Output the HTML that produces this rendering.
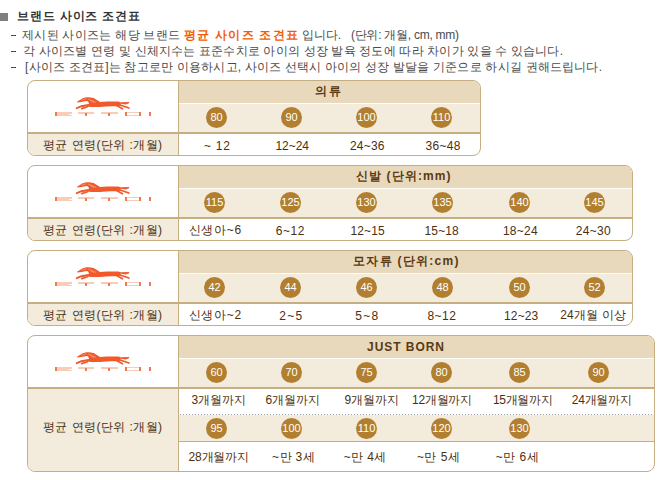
<!DOCTYPE html>
<html><head><meta charset="utf-8"><style>
html,body{margin:0;padding:0;background:#fff;width:670px;height:480px;overflow:hidden;position:relative;font-family:"Liberation Sans",sans-serif;}
.abs{position:absolute;}
.tb{position:absolute;box-sizing:border-box;border:1px solid #c4ae82;border-radius:8px;overflow:hidden;background:#fff;}
.r{position:absolute;}
.c{position:absolute;width:21px;height:21px;border-radius:50%;background:#b27f30;color:#fff;font-size:11px;line-height:20px;text-align:center;letter-spacing:0px;}
svg text{font-family:"Liberation Sans",sans-serif;font-size:12px;}
</style></head><body>

<div class="abs" style="left:0;top:13px;width:8px;height:8px;background:#808080"></div>
<div class="abs" style="left:11px;top:35px;width:5px;height:1px;background:#4a4a4a"></div>
<div class="abs" style="left:11px;top:51px;width:5px;height:1px;background:#4a4a4a"></div>
<div class="abs" style="left:11px;top:67px;width:5px;height:1px;background:#4a4a4a"></div>
<div class="tb" style="left:27px;top:80px;width:454px;height:76px">
<div class="r" style="left:151px;top:0px;width:301px;height:22px;background:#e8d8bc;"></div>
<div class="r" style="left:151px;top:22px;width:301px;height:1px;background:#fffdf8;"></div>
<div class="r" style="left:151px;top:23px;width:301px;height:28px;background:#f3ebdc;"></div>
<div class="r" style="left:0px;top:51px;width:452px;height:2px;background:#c4ae82;"></div>
<div class="r" style="left:0px;top:53px;width:150px;height:21px;background:#f3ebdc;"></div>
<div class="r" style="left:150px;top:0px;width:1px;height:74px;background:#c4ae82;"></div>
<div class="c" style="left:178px;top:26px">80</div>
<div class="c" style="left:253px;top:26px">90</div>
<div class="c" style="left:328px;top:26px">100</div>
<div class="c" style="left:403px;top:26px">110</div>
</div>
<svg class="abs" style="left:28px;top:81px" width="150" height="51" viewBox="28 81 150 51">
<g fill="#f0592a"><path d="M77.2,101.6 L79.5,100.2 L82.6,98.2 L86.4,97.3 L89,97.2 L93.6,98 L98.5,101 L100,101.9 C105,101.6 112,101.4 118.6,101.5 L121,102.6 L120.5,105.5 L117,106.5 C112,106.1 106,106.4 100,106.9 L92,107 L88,106.8 L89,103.8 L88.2,101.6 L86.7,101.1 L81.5,102 L77.5,102.4 Z"/><path d="M120.5,102.2 L129.2,102 L129,103.2 L125.7,104.5 L121,103.8 Z"/></g>
<g stroke="#f0592a" stroke-linecap="round" fill="none"><path stroke-width="1.6" d="M120,105 L129,108.1"/><path stroke-width="1.6" d="M117.5,106 L122.5,108.8"/><path stroke-width="2" d="M88.5,104.9 L81.4,106.2 L76.8,108.1"/><path stroke-width="1.7" d="M87.5,106.8 L81.7,108.6"/></g><g stroke="#fff" stroke-opacity="0.45" stroke-width="0.7" fill="none"><path d="M88,98.9 L96,102.4"/><path d="M81.5,100.3 L86.5,98.6"/><path d="M90.5,100.6 L94,102.6"/></g>
<g fill="#f9ccba">
<rect x="55" y="112" width="17" height="4"/>
<rect x="78" y="112" width="16" height="2"/>
<rect x="101" y="112" width="17" height="2"/>
<rect x="125" y="112" width="16" height="1"/><rect x="125" y="115" width="16" height="1"/>
</g>
<g fill="#f2794f">
<rect x="55" y="112" width="2" height="4"/>
<rect x="85" y="113" width="2" height="3"/>
<rect x="108" y="113" width="2" height="3"/>
<rect x="125" y="112" width="2" height="4"/><rect x="139" y="112" width="2" height="4"/>
<rect x="149" y="112" width="2" height="4"/>
</g>
<rect x="69" y="114" width="3" height="1" fill="#fff"/>
</svg>
<div class="tb" style="left:27px;top:165px;width:606px;height:76px">
<div class="r" style="left:151px;top:0px;width:453px;height:22px;background:#e8d8bc;"></div>
<div class="r" style="left:151px;top:22px;width:453px;height:1px;background:#fffdf8;"></div>
<div class="r" style="left:151px;top:23px;width:453px;height:28px;background:#f3ebdc;"></div>
<div class="r" style="left:0px;top:51px;width:604px;height:2px;background:#c4ae82;"></div>
<div class="r" style="left:0px;top:53px;width:150px;height:21px;background:#f3ebdc;"></div>
<div class="r" style="left:150px;top:0px;width:1px;height:74px;background:#c4ae82;"></div>
<div class="c" style="left:176px;top:26px">115</div>
<div class="c" style="left:252px;top:26px">125</div>
<div class="c" style="left:328px;top:26px">130</div>
<div class="c" style="left:404px;top:26px">135</div>
<div class="c" style="left:481px;top:26px">140</div>
<div class="c" style="left:556px;top:26px">145</div>
</div>
<svg class="abs" style="left:28px;top:166px" width="150" height="51" viewBox="28 81 150 51">
<g fill="#f0592a"><path d="M77.2,101.6 L79.5,100.2 L82.6,98.2 L86.4,97.3 L89,97.2 L93.6,98 L98.5,101 L100,101.9 C105,101.6 112,101.4 118.6,101.5 L121,102.6 L120.5,105.5 L117,106.5 C112,106.1 106,106.4 100,106.9 L92,107 L88,106.8 L89,103.8 L88.2,101.6 L86.7,101.1 L81.5,102 L77.5,102.4 Z"/><path d="M120.5,102.2 L129.2,102 L129,103.2 L125.7,104.5 L121,103.8 Z"/></g>
<g stroke="#f0592a" stroke-linecap="round" fill="none"><path stroke-width="1.6" d="M120,105 L129,108.1"/><path stroke-width="1.6" d="M117.5,106 L122.5,108.8"/><path stroke-width="2" d="M88.5,104.9 L81.4,106.2 L76.8,108.1"/><path stroke-width="1.7" d="M87.5,106.8 L81.7,108.6"/></g><g stroke="#fff" stroke-opacity="0.45" stroke-width="0.7" fill="none"><path d="M88,98.9 L96,102.4"/><path d="M81.5,100.3 L86.5,98.6"/><path d="M90.5,100.6 L94,102.6"/></g>
<g fill="#f9ccba">
<rect x="55" y="112" width="17" height="4"/>
<rect x="78" y="112" width="16" height="2"/>
<rect x="101" y="112" width="17" height="2"/>
<rect x="125" y="112" width="16" height="1"/><rect x="125" y="115" width="16" height="1"/>
</g>
<g fill="#f2794f">
<rect x="55" y="112" width="2" height="4"/>
<rect x="85" y="113" width="2" height="3"/>
<rect x="108" y="113" width="2" height="3"/>
<rect x="125" y="112" width="2" height="4"/><rect x="139" y="112" width="2" height="4"/>
<rect x="149" y="112" width="2" height="4"/>
</g>
<rect x="69" y="114" width="3" height="1" fill="#fff"/>
</svg>
<div class="tb" style="left:27px;top:250px;width:606px;height:76px">
<div class="r" style="left:151px;top:0px;width:453px;height:22px;background:#e8d8bc;"></div>
<div class="r" style="left:151px;top:22px;width:453px;height:1px;background:#fffdf8;"></div>
<div class="r" style="left:151px;top:23px;width:453px;height:28px;background:#f3ebdc;"></div>
<div class="r" style="left:0px;top:51px;width:604px;height:2px;background:#c4ae82;"></div>
<div class="r" style="left:0px;top:53px;width:150px;height:21px;background:#f3ebdc;"></div>
<div class="r" style="left:150px;top:0px;width:1px;height:74px;background:#c4ae82;"></div>
<div class="c" style="left:176px;top:26px">42</div>
<div class="c" style="left:252px;top:26px">44</div>
<div class="c" style="left:328px;top:26px">46</div>
<div class="c" style="left:404px;top:26px">48</div>
<div class="c" style="left:481px;top:26px">50</div>
<div class="c" style="left:556px;top:26px">52</div>
</div>
<svg class="abs" style="left:28px;top:251px" width="150" height="51" viewBox="28 81 150 51">
<g fill="#f0592a"><path d="M77.2,101.6 L79.5,100.2 L82.6,98.2 L86.4,97.3 L89,97.2 L93.6,98 L98.5,101 L100,101.9 C105,101.6 112,101.4 118.6,101.5 L121,102.6 L120.5,105.5 L117,106.5 C112,106.1 106,106.4 100,106.9 L92,107 L88,106.8 L89,103.8 L88.2,101.6 L86.7,101.1 L81.5,102 L77.5,102.4 Z"/><path d="M120.5,102.2 L129.2,102 L129,103.2 L125.7,104.5 L121,103.8 Z"/></g>
<g stroke="#f0592a" stroke-linecap="round" fill="none"><path stroke-width="1.6" d="M120,105 L129,108.1"/><path stroke-width="1.6" d="M117.5,106 L122.5,108.8"/><path stroke-width="2" d="M88.5,104.9 L81.4,106.2 L76.8,108.1"/><path stroke-width="1.7" d="M87.5,106.8 L81.7,108.6"/></g><g stroke="#fff" stroke-opacity="0.45" stroke-width="0.7" fill="none"><path d="M88,98.9 L96,102.4"/><path d="M81.5,100.3 L86.5,98.6"/><path d="M90.5,100.6 L94,102.6"/></g>
<g fill="#f9ccba">
<rect x="55" y="112" width="17" height="4"/>
<rect x="78" y="112" width="16" height="2"/>
<rect x="101" y="112" width="17" height="2"/>
<rect x="125" y="112" width="16" height="1"/><rect x="125" y="115" width="16" height="1"/>
</g>
<g fill="#f2794f">
<rect x="55" y="112" width="2" height="4"/>
<rect x="85" y="113" width="2" height="3"/>
<rect x="108" y="113" width="2" height="3"/>
<rect x="125" y="112" width="2" height="4"/><rect x="139" y="112" width="2" height="4"/>
<rect x="149" y="112" width="2" height="4"/>
</g>
<rect x="69" y="114" width="3" height="1" fill="#fff"/>
</svg>
<div class="tb" style="left:27px;top:335px;width:628px;height:137px">
<div class="r" style="left:151px;top:0px;width:475px;height:22px;background:#e8d8bc;"></div>
<div class="r" style="left:151px;top:22px;width:475px;height:1px;background:#fffdf8;"></div>
<div class="r" style="left:151px;top:23px;width:475px;height:28px;background:#f3ebdc;"></div>
<div class="r" style="left:0px;top:51px;width:626px;height:2px;background:#c4ae82;"></div>
<div class="r" style="left:0px;top:53px;width:150px;height:82px;background:#f3ebdc;"></div>
<div class="r" style="left:151px;top:78px;width:475px;height:1px;background:transparent;background-image:linear-gradient(to right,#a0a0a0 1px,transparent 1px);background-size:3px 1px;background-position:1px 0;"></div>
<div class="r" style="left:151px;top:79px;width:475px;height:26px;background:#f3ebdc;"></div>
<div class="r" style="left:151px;top:105px;width:475px;height:1px;background:#c4ae82;"></div>
<div class="r" style="left:150px;top:0px;width:1px;height:135px;background:#c4ae82;"></div>
<div class="c" style="left:178px;top:26px">60</div>
<div class="c" style="left:253px;top:26px">70</div>
<div class="c" style="left:328px;top:26px">75</div>
<div class="c" style="left:403px;top:26px">80</div>
<div class="c" style="left:481px;top:26px">85</div>
<div class="c" style="left:560px;top:26px">90</div>
<div class="c" style="left:178px;top:82px">95</div>
<div class="c" style="left:253px;top:82px">100</div>
<div class="c" style="left:328px;top:82px">110</div>
<div class="c" style="left:403px;top:82px">120</div>
<div class="c" style="left:481px;top:82px">130</div>
</div>
<svg class="abs" style="left:28px;top:336px" width="150" height="51" viewBox="28 81 150 51">
<g fill="#f0592a"><path d="M77.2,101.6 L79.5,100.2 L82.6,98.2 L86.4,97.3 L89,97.2 L93.6,98 L98.5,101 L100,101.9 C105,101.6 112,101.4 118.6,101.5 L121,102.6 L120.5,105.5 L117,106.5 C112,106.1 106,106.4 100,106.9 L92,107 L88,106.8 L89,103.8 L88.2,101.6 L86.7,101.1 L81.5,102 L77.5,102.4 Z"/><path d="M120.5,102.2 L129.2,102 L129,103.2 L125.7,104.5 L121,103.8 Z"/></g>
<g stroke="#f0592a" stroke-linecap="round" fill="none"><path stroke-width="1.6" d="M120,105 L129,108.1"/><path stroke-width="1.6" d="M117.5,106 L122.5,108.8"/><path stroke-width="2" d="M88.5,104.9 L81.4,106.2 L76.8,108.1"/><path stroke-width="1.7" d="M87.5,106.8 L81.7,108.6"/></g><g stroke="#fff" stroke-opacity="0.45" stroke-width="0.7" fill="none"><path d="M88,98.9 L96,102.4"/><path d="M81.5,100.3 L86.5,98.6"/><path d="M90.5,100.6 L94,102.6"/></g>
<g fill="#f9ccba">
<rect x="55" y="112" width="17" height="4"/>
<rect x="78" y="112" width="16" height="2"/>
<rect x="101" y="112" width="17" height="2"/>
<rect x="125" y="112" width="16" height="1"/><rect x="125" y="115" width="16" height="1"/>
</g>
<g fill="#f2794f">
<rect x="55" y="112" width="2" height="4"/>
<rect x="85" y="113" width="2" height="3"/>
<rect x="108" y="113" width="2" height="3"/>
<rect x="125" y="112" width="2" height="4"/><rect x="139" y="112" width="2" height="4"/>
<rect x="149" y="112" width="2" height="4"/>
</g>
<rect x="69" y="114" width="3" height="1" fill="#fff"/>
</svg>
<svg class="abs" style="left:0;top:0" width="670" height="480" viewBox="0 0 670 480">
<text x="17.0" y="20" textLength="123.0" lengthAdjust="spacing" fill="#333333" font-weight="bold">브랜드 사이즈 조견표</text>
<text x="22.0" y="39" textLength="158.0" lengthAdjust="spacing" fill="#4a4a4a">제시된 사이즈는 해당 브랜드</text>
<text x="184.0" y="39" textLength="114.0" lengthAdjust="spacing" fill="#f25c05" font-weight="bold">평균 사이즈 조견표</text>
<text x="302.0" y="39" textLength="39.0" lengthAdjust="spacing" fill="#4a4a4a">입니다.</text>
<text x="351.0" y="39" textLength="108.0" lengthAdjust="spacing" fill="#4a4a4a">(단위: 개월, cm, mm)</text>
<text x="23.0" y="55" textLength="540.0" lengthAdjust="spacing" fill="#4a4a4a">각 사이즈별 연령 및 신체지수는 표준수치로 아이의 성장 발육 정도에 따라 차이가 있을 수 있습니다.</text>
<text x="25.0" y="71" textLength="577.0" lengthAdjust="spacing" fill="#4a4a4a">[사이즈 조견표]는 참고로만 이용하시고, 사이즈 선택시 아이의 성장 발달을 기준으로 하시길 권해드립니다.</text>
<text x="315.0" y="95" textLength="26.0" lengthAdjust="spacing" fill="#5a3a12" font-weight="bold">의류</text>
<text x="43.0" y="149" textLength="119.0" lengthAdjust="spacing" fill="#4b300f">평균 연령(단위 :개월)</text>
<text x="204.0" y="150" textLength="26.0" lengthAdjust="spacing" fill="#4b300f">~ 12</text>
<text x="275.5" y="150" textLength="33.5" lengthAdjust="spacing" fill="#4b300f">12~24</text>
<text x="350.0" y="150" textLength="34.5" lengthAdjust="spacing" fill="#4b300f">24~36</text>
<text x="425.5" y="150" textLength="35.0" lengthAdjust="spacing" fill="#4b300f">36~48</text>
<text x="356.0" y="180" textLength="94.5" lengthAdjust="spacing" fill="#5a3a12" font-weight="bold">신발 (단위:mm)</text>
<text x="43.0" y="234" textLength="119.0" lengthAdjust="spacing" fill="#4b300f">평균 연령(단위 :개월)</text>
<text x="188.6" y="234" textLength="52.6" lengthAdjust="spacing" fill="#4b300f">신생아~6</text>
<text x="275.7" y="235" textLength="28.8" lengthAdjust="spacing" fill="#4b300f">6~12</text>
<text x="350.5" y="235" textLength="34.2" lengthAdjust="spacing" fill="#4b300f">12~15</text>
<text x="424.5" y="235" textLength="34.3" lengthAdjust="spacing" fill="#4b300f">15~18</text>
<text x="502.9" y="235" textLength="34.7" lengthAdjust="spacing" fill="#4b300f">18~24</text>
<text x="575.7" y="235" textLength="35.0" lengthAdjust="spacing" fill="#4b300f">24~30</text>
<text x="353.0" y="265" textLength="105.5" lengthAdjust="spacing" fill="#5a3a12" font-weight="bold">모자류 (단위:cm)</text>
<text x="43.0" y="319" textLength="119.0" lengthAdjust="spacing" fill="#4b300f">평균 연령(단위 :개월)</text>
<text x="188.6" y="319" textLength="52.6" lengthAdjust="spacing" fill="#4b300f">신생아~2</text>
<text x="279.3" y="320" textLength="23.0" lengthAdjust="spacing" fill="#4b300f">2~5</text>
<text x="355.3" y="320" textLength="23.0" lengthAdjust="spacing" fill="#4b300f">5~8</text>
<text x="427.4" y="320" textLength="28.5" lengthAdjust="spacing" fill="#4b300f">8~12</text>
<text x="504.0" y="320" textLength="34.3" lengthAdjust="spacing" fill="#4b300f">12~23</text>
<text x="560.2" y="319" textLength="65.8" lengthAdjust="spacing" fill="#4b300f">24개월 이상</text>
<text x="367.0" y="351" textLength="77.0" lengthAdjust="spacing" fill="#5a3a12" font-weight="bold">JUST BORN</text>
<text x="43.0" y="431" textLength="119.0" lengthAdjust="spacing" fill="#4b300f">평균 연령(단위 :개월)</text>
<text x="191.4" y="404" textLength="54.6" lengthAdjust="spacing" fill="#4b300f">3개월까지</text>
<text x="265.4" y="404" textLength="54.6" lengthAdjust="spacing" fill="#4b300f">6개월까지</text>
<text x="344.5" y="404" textLength="54.5" lengthAdjust="spacing" fill="#4b300f">9개월까지</text>
<text x="412.1" y="404" textLength="59.8" lengthAdjust="spacing" fill="#4b300f">12개월까지</text>
<text x="492.9" y="404" textLength="59.7" lengthAdjust="spacing" fill="#4b300f">15개월까지</text>
<text x="571.7" y="404" textLength="60.3" lengthAdjust="spacing" fill="#4b300f">24개월까지</text>
<text x="188.6" y="461" textLength="60.4" lengthAdjust="spacing" fill="#4b300f">28개월까지</text>
<text x="272.1" y="461" textLength="42.6" lengthAdjust="spacing" fill="#4b300f">~만 3세</text>
<text x="343.8" y="461" textLength="42.6" lengthAdjust="spacing" fill="#4b300f">~만 4세</text>
<text x="416.9" y="461" textLength="43.1" lengthAdjust="spacing" fill="#4b300f">~만 5세</text>
<text x="495.7" y="461" textLength="43.1" lengthAdjust="spacing" fill="#4b300f">~만 6세</text>
</svg>
</body></html>
